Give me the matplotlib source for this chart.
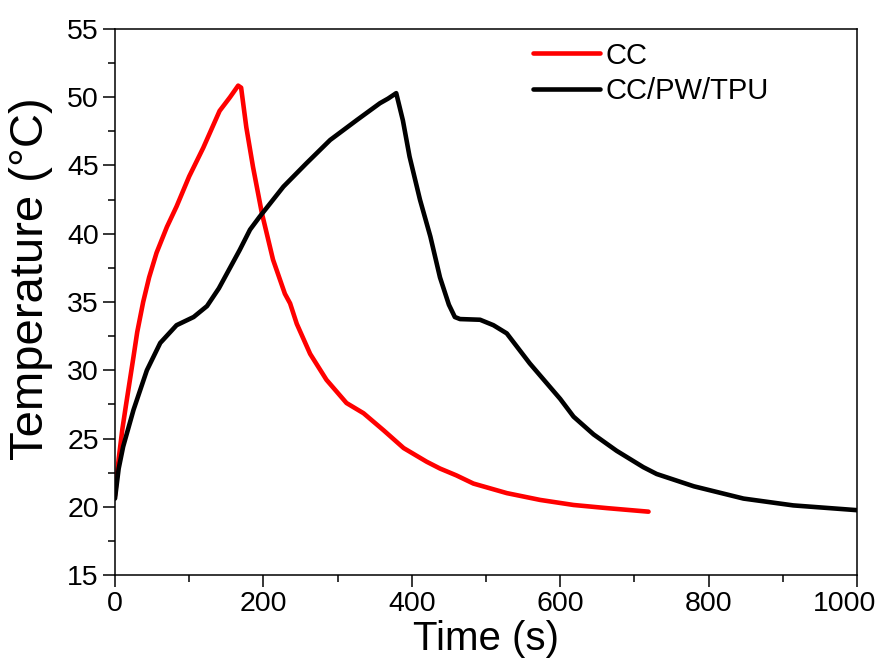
import matplotlib
matplotlib.use("Agg")
import matplotlib.pyplot as plt
from matplotlib.ticker import MultipleLocator
from matplotlib.transforms import ScaledTranslation

plt.rcParams['font.family'] = ['Liberation Sans', 'DejaVu Sans']

# CC series (time in s, temperature in °C)
cc_time = [0, 5, 10, 15, 25, 30, 38, 46, 56, 70, 83, 100, 119, 141, 155, 166, 170,
           177, 186, 198, 213, 229, 236, 245, 263, 285, 312, 335, 362, 389, 420, 438,
           460, 483, 528, 573, 618, 663, 719]
cc_temp = [20.8, 23.5, 25.7, 27.5, 31.0, 32.8, 35.0, 36.8, 38.6, 40.5, 42.0, 44.2,
           46.3, 49.0, 50.0, 50.85, 50.7, 47.8, 44.9, 41.5, 38.1, 35.6, 34.9, 33.4,
           31.2, 29.3, 27.6, 26.85, 25.6, 24.3, 23.3, 22.8, 22.3, 21.7, 21.0, 20.5,
           20.13, 19.9, 19.64]

# CC/PW/TPU series
pw_time = [0, 5, 11, 25, 43, 61, 83, 106, 124, 140, 159, 168, 182, 195, 227, 258, 290,
           326, 357, 368, 379, 388, 397, 411, 425, 438, 450, 458, 465, 492, 510,
           528, 559, 600, 618, 645, 676, 712, 730, 780, 847, 914, 1000]
pw_temp = [20.6, 22.8, 24.4, 27.1, 30.0, 32.0, 33.3, 33.9, 34.7, 36.0, 37.9, 38.8, 40.3,
           41.25, 43.45, 45.16, 46.87, 48.33, 49.56, 49.9, 50.3, 48.3, 45.65, 42.5,
           39.8, 36.8, 34.8, 33.9, 33.75, 33.7, 33.3, 32.7, 30.5, 27.9, 26.6, 25.3,
           24.1, 22.9, 22.4, 21.5, 20.6, 20.1, 19.75]

labels = ["CC", "CC/PW/TPU"]
x_ticks = [0, 200, 400, 600, 800, 1000]
y_ticks = [15, 20, 25, 30, 35, 40, 45, 50, 55]

fig = plt.figure(figsize=(8.81, 6.68), dpi=100)
ax = fig.add_axes([0.1305, 0.1392, 0.8423, 0.8174])

ax.plot(cc_time, cc_temp, color='#ff0000', lw=3.3, label=labels[0],
        solid_joinstyle='round', solid_capstyle='round')
ax.plot(pw_time, pw_temp, color='black', lw=3.3, label=labels[1],
        solid_joinstyle='round', solid_capstyle='round')

ax.set_xlim(0, 1000)
ax.set_ylim(15, 55)
ax.set_xticks(x_ticks)
ax.set_yticks(y_ticks)
ax.xaxis.set_minor_locator(MultipleLocator(100))
ax.yaxis.set_minor_locator(MultipleLocator(2.5))
ax.tick_params(which='major', direction='out', length=8.5, width=1.1, labelsize=20.5,
               top=False, right=False, pad=3)
ax.tick_params(which='minor', direction='out', length=5, width=1.1, top=False, right=False)
for s in ax.spines.values():
    s.set_linewidth(1.1)

# shift the last x tick label slightly left so it fits, as in the reference
fig.canvas.draw()
last = ax.get_xticklabels()[-1]
last.set_transform(last.get_transform() + ScaledTranslation(-12 / 100, 0, fig.dpi_scale_trans))

ax.set_xlabel("Time (s)", fontsize=29, labelpad=2)
ax.set_ylabel("Temperature (°C)", fontsize=34)
ax.yaxis.set_label_coords(-0.083, 0.542)

leg = ax.legend(loc='upper left', bbox_to_anchor=(0.563, 0.977), frameon=False,
                fontsize=21, handlelength=2.3, handletextpad=0.2, labelspacing=0.25,
                borderpad=0, borderaxespad=0)

fig.savefig("out.png", dpi=100)
